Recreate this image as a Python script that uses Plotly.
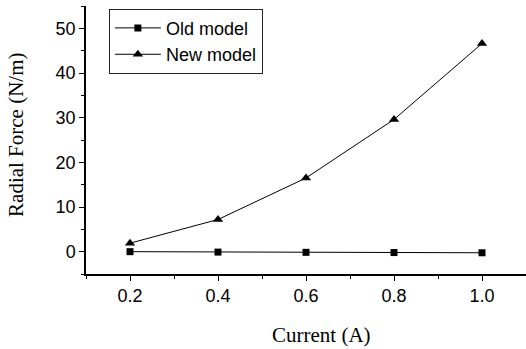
import plotly.graph_objects as go

# Radial force versus current for the two models
current = [0.2, 0.4, 0.6, 0.8, 1.0]
old_model = [0.0, -0.1, -0.15, -0.2, -0.25]
new_model = [1.9, 7.2, 16.5, 29.6, 46.6]

x_ticks = [0.2, 0.4, 0.6, 0.8, 1.0]
x_ticklabels = ["0.2", "0.4", "0.6", "0.8", "1.0"]
y_ticks = [0, 10, 20, 30, 40, 50]

fig = go.Figure()
fig.add_trace(go.Scatter(
    x=current, y=old_model, name="Old model", mode="lines+markers",
    line=dict(color="black", width=1),
    marker=dict(symbol="square", size=7, color="black"),
))
fig.add_trace(go.Scatter(
    x=current, y=new_model, name="New model", mode="lines+markers",
    line=dict(color="black", width=1),
    marker=dict(symbol="triangle-up", size=9, color="black"),
))

tick_font = dict(family="Liberation Sans, Arial", size=18, color="black")
title_font = dict(family="Liberation Serif, Times New Roman", size=21, color="black")

fig.update_layout(
    width=526, height=349,
    margin=dict(l=86, r=0, t=6, b=75),
    paper_bgcolor="white", plot_bgcolor="white",
    showlegend=True,
    legend=dict(
        x=0.052, y=0.99, xanchor="left", yanchor="top",
        bgcolor="white", bordercolor="#222", borderwidth=1,
        font=dict(family="Liberation Sans, Arial", size=18, color="black"),
        tracegroupgap=0, itemwidth=46,
    ),
    xaxis=dict(
        range=[0.1, 1.1], tickvals=x_ticks, ticktext=x_ticklabels,
        showgrid=False, zeroline=False, showline=True, linecolor="black", linewidth=1.5,
        ticks="outside", ticklen=5, tickwidth=1, tickcolor="black",
        minor=dict(ticks="outside", ticklen=3, tickwidth=1, tickcolor="black", dtick=0.1, tick0=0.1),
        tickfont=tick_font,
    ),
    yaxis=dict(
        range=[-5, 55], tickvals=y_ticks,
        showgrid=False, zeroline=False, showline=True, linecolor="black", linewidth=1.5,
        ticks="outside", ticklen=5, tickwidth=1, tickcolor="black",
        minor=dict(ticks="outside", ticklen=3, tickwidth=1, tickcolor="black", dtick=5, tick0=-5),
        tickfont=tick_font,
    ),
    annotations=[
        dict(text="Current (A)", xref="paper", yref="paper", x=0.536, y=-0.228,
             xanchor="center", yanchor="middle", showarrow=False, font=title_font),
        dict(text="Radial Force (N/m)", xref="paper", yref="paper", x=-0.159, y=0.519,
             xanchor="center", yanchor="middle", textangle=-90, showarrow=False, font=title_font),
    ],
)

fig.write_html("out.html")
